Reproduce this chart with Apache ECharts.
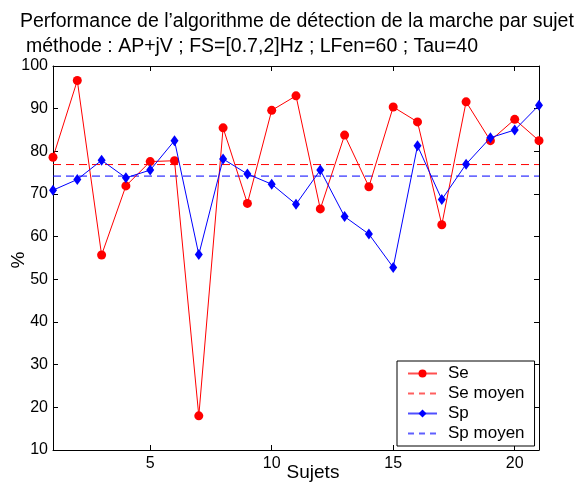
<!DOCTYPE html>
<html>
<head>
<meta charset="utf-8">
<script src="https://cdn.jsdelivr.net/npm/echarts@6/dist/echarts.min.js"></script>
<style>
html,body{margin:0;padding:0;background:#fff;}
#c{width:577px;height:483px;}
</style>
</head>
<body>
<div id="c"></div>
<script>
var titleLine1 = 'Performance de l’algorithme de détection de la marche par sujet';
var titleLine2 = 'méthode : AP+jV ; FS=[0.7,2]Hz ; LFen=60 ; Tau=40';
var xAxisName = 'Sujets';
var yAxisName = '%';
var sujets = [1,2,3,4,5,6,7,8,9,10,11,12,13,14,15,16,17,18,19,20,21];
var seValues = [78.6,96.6,55.7,71.9,77.6,77.8,18.0,85.5,67.8,89.6,93.0,66.5,83.8,71.7,90.4,86.9,62.8,91.6,82.5,87.5,82.5];
var spValues = [70.9,73.4,77.9,73.8,75.6,82.5,55.8,78.2,74.7,72.3,67.6,75.6,64.7,60.6,52.8,81.3,68.7,77.0,83.2,85.0,90.8];
var seMean = 76.9;
var spMean = 74.2;
var xTicks = [5,10,15,20];

var FONT = 'Liberation Sans, Arial, Helvetica, sans-serif';
function pairs(xs, ys){ return xs.map(function(x,i){ return [x, ys[i]]; }); }
var first = sujets[0], last = sujets[sujets.length-1];

var chart = echarts.init(document.getElementById('c'), null, {renderer:'canvas'});
var baseX = {
  type:'value', min:first, max:last,
  axisLine:{show:true, onZero:false, lineStyle:{color:'#000', width:1}},
  axisTick:{show:true, inside:true, length:5, customValues:xTicks, lineStyle:{color:'#000'}},
  splitLine:{show:false}
};
var baseY = {
  type:'value', min:10, max:100, interval:10,
  axisLine:{show:true, onZero:false, lineStyle:{color:'#000', width:1}},
  axisTick:{show:true, inside:true, length:5, lineStyle:{color:'#000'}},
  splitLine:{show:false}
};
chart.setOption({
  animation:false,
  backgroundColor:'#fff',
  title:[
    {text:titleLine1, left:20, top:12, padding:0, textStyle:{fontFamily:FONT, fontSize:19.5, fontWeight:'normal', color:'#000'}},
    {text:titleLine2, left:26, top:37, padding:0, textStyle:{fontFamily:FONT, fontSize:19.5, fontWeight:'normal', color:'#000'}}
  ],
  graphic:[
    {type:'text', x:19, y:260, rotation:Math.PI/2, z:10,
     style:{text:yAxisName, fontFamily:FONT, fontSize:19, fill:'#000', align:'center', verticalAlign:'middle'}},
    {type:'text', x:313, y:473, z:10,
     style:{text:xAxisName, fontFamily:FONT, fontSize:19, fill:'#000', align:'center', verticalAlign:'middle'}}
  ],
  grid:{left:53, right:38, top:66, bottom:33, containLabel:false, outerBoundsMode:'none'},
  xAxis:[
    Object.assign({}, baseX, {
      position:'bottom',
      axisLabel:{show:true, customValues:xTicks, margin:6, fontFamily:FONT, fontSize:16, color:'#000'}
    }),
    Object.assign({}, baseX, {position:'top', axisLabel:{show:false}})
  ],
  yAxis:[
    Object.assign({}, baseY, {
      position:'left',
      axisLabel:{show:true, margin:5, fontFamily:FONT, fontSize:16, color:'#000'}
    }),
    Object.assign({}, baseY, {position:'right', axisLabel:{show:false}})
  ],
  legend:{
    orient:'vertical', left:397, top:361,
    padding:[4,10,4,10], itemGap:3, itemWidth:29, itemHeight:10,
    backgroundColor:'#fff', borderColor:'#000', borderWidth:1, borderRadius:0,
    textStyle:{fontFamily:FONT, fontSize:17, color:'#000', padding:[0,0,0,6]},
    data:[
      {name:'Se', lineStyle:{color:'#ff5050'}},
      {name:'Se moyen', itemStyle:{opacity:0}, lineStyle:{color:'#ff6060', type:[6,5]}},
      {name:'Sp', lineStyle:{color:'#5050ff'}},
      {name:'Sp moyen', itemStyle:{opacity:0}, lineStyle:{color:'#6060ff', type:[6,5]}}
    ]
  },
  series:[
    {name:'Se', type:'line', data:pairs(sujets, seValues), symbol:'circle', symbolSize:9,
     itemStyle:{color:'#ff0000'}, lineStyle:{color:'#ff0000', width:1}, z:3},
    {name:'Se moyen', type:'line', data:[[first,seMean],[last,seMean]], symbol:'none',
     itemStyle:{color:'#ff0000'}, lineStyle:{color:'#ff0000', width:1, type:[8,5]}, z:2},
    {name:'Sp', type:'line', data:pairs(sujets, spValues), symbol:'diamond', symbolSize:[8,11],
     itemStyle:{color:'#0000ff'}, lineStyle:{color:'#0000ff', width:1}, z:4},
    {name:'Sp moyen', type:'line', data:[[first,spMean],[last,spMean]], symbol:'none',
     itemStyle:{color:'#0000ff'}, lineStyle:{color:'#0000ff', width:1, type:[8,5]}, z:2}
  ]
});
</script>
</body>
</html>
